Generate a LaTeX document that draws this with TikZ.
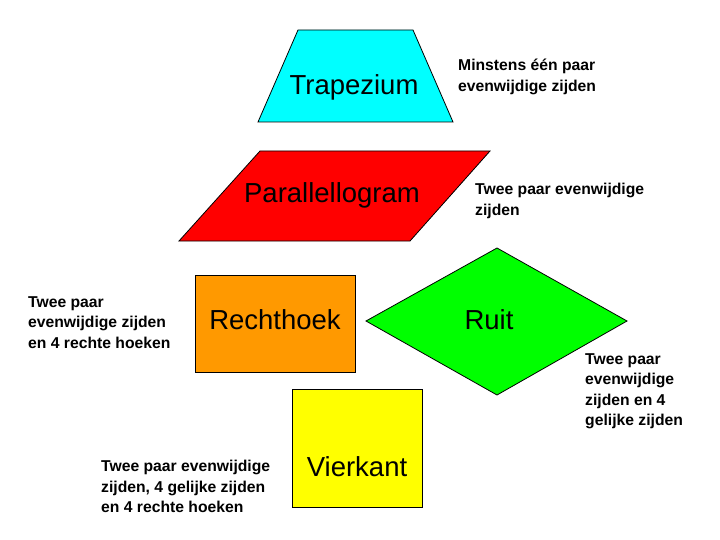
\documentclass[tikz,border=0pt]{standalone}
\usepackage{fontspec}
\setmainfont{Liberation Sans}
\definecolor{cyanf}{RGB}{0,255,255}
\definecolor{orangef}{RGB}{255,153,0}
\definecolor{yellowf}{RGB}{255,255,0}
\definecolor{greenf}{RGB}{0,255,0}
\begin{document}
\begin{tikzpicture}[x=1pt,y=-1pt,
  shp/.style={draw=black,line width=0.8pt},
  big/.style={font=\fontsize{27.5}{30}\selectfont},
  note/.style={font=\bfseries\fontsize{15.7}{20.5}\selectfont,align=left,anchor=north west,inner sep=0pt}]
\useasboundingbox (0,0) rectangle (720,540);
\fill[white] (0,0) rectangle (720,540);
\draw[shp,fill=cyanf] (298,30) -- (413,30) -- (453,122) -- (258,122) -- cycle;
\node[big] (trap) at (354,87) {Trapezium};
\draw[shp,fill=red] (260,151) -- (490,151) -- (410,241) -- (179,241) -- cycle;
\node[big] (par) at (332,195) {Parallellogram};
\draw[shp,fill=orangef] (195,275) rectangle (355,372);
\node[big] (rech) at (275,320) {Rechthoek};
\draw[shp,fill=greenf] (366,321) -- (497,248) -- (627,321) -- (497,395) -- cycle;
\node[big] (ruit) at (489,320) {Ruit};
\draw[shp,fill=yellowf] (292,389) rectangle (422,507);
\node[big] (vier) at (357,467) {Vierkant};
\node[note] (n1) at (458,59) {Minstens één paar\\evenwijdige zijden};
\node[note] (n2) at (475,183) {Twee paar evenwijdige\\zijden};
\node[note] (n3) at (28,296) {Twee paar\\evenwijdige zijden\\en 4 rechte hoeken};
\node[note] (n4) at (585,353) {Twee paar\\evenwijdige\\zijden en 4\\gelijke zijden};
\node[note] (n5) at (101,460) {Twee paar evenwijdige\\zijden, 4 gelijke zijden\\en 4 rechte hoeken};
\end{tikzpicture}
\end{document}
